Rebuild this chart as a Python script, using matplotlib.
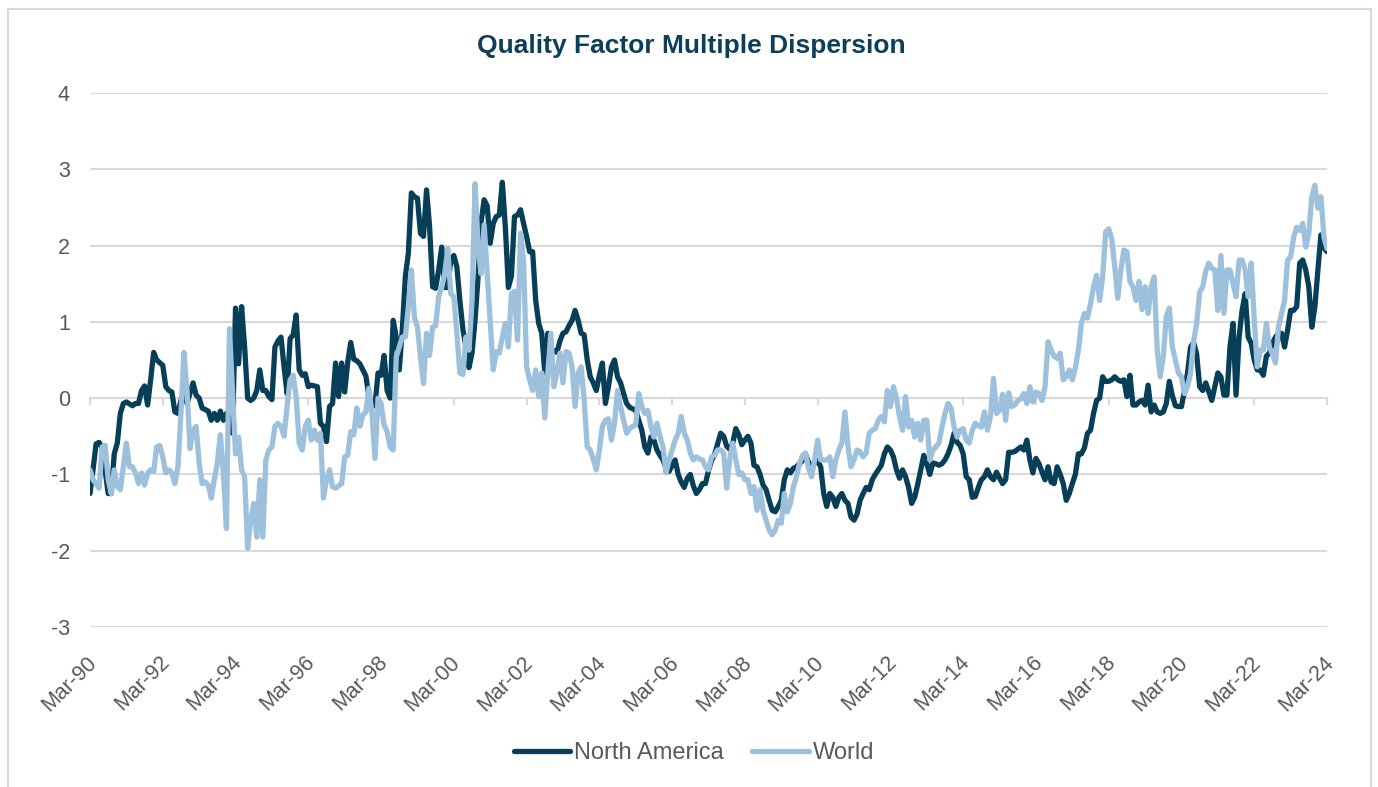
import matplotlib
matplotlib.use("Agg")
import matplotlib.pyplot as plt
from matplotlib.patches import Rectangle
from matplotlib.transforms import ScaledTranslation

plt.rcParams["font.family"] = ["Liberation Sans", "DejaVu Sans"]

# Months elapsed since March 1990, with the matching dispersion readings
na_months = [
    0, 1, 2, 3, 4, 6, 7, 8, 9, 10, 11, 12, 14, 15, 16, 17, 18, 19, 20, 21, 22, 24, 25, 26, 27,
    28, 29, 30, 31, 32, 34, 35, 36, 37, 39, 40, 41, 42, 43, 44, 45, 46, 47, 48, 49, 50, 51, 52,
    53, 54, 55, 56, 57, 58, 59, 60, 61, 62, 63, 64, 65, 66, 67, 68, 69, 70, 71, 72, 73, 75, 76,
    77, 78, 79, 80, 81, 82, 83, 84, 85, 86, 87, 88, 89, 90, 91, 92, 93, 94, 95, 96, 97, 98, 99,
    100, 101, 102, 103, 104, 105, 106, 107, 108, 109, 110, 111, 112, 113, 114, 115, 116, 117,
    118, 119, 120, 121, 122, 123, 124, 125, 126, 127, 128, 129, 130, 131, 132, 133, 134, 135,
    136, 137, 138, 139, 140, 141, 142, 143, 144, 145, 146, 147, 148, 149, 150, 151, 152, 153,
    154, 155, 156, 157, 158, 159, 160, 161, 162, 163, 164, 165, 166, 167, 168, 169, 170, 171,
    172, 173, 174, 175, 176, 177, 178, 179, 180, 181, 182, 183, 184, 185, 186, 187, 188, 189,
    190, 191, 192, 193, 194, 195, 196, 197, 198, 199, 200, 201, 202, 203, 204, 205, 206, 207,
    208, 209, 210, 211, 212, 213, 214, 215, 216, 217, 218, 219, 220, 221, 222, 223, 224, 225,
    226, 227, 228, 229, 230, 231, 232, 233, 234, 235, 236, 237, 238, 239, 240, 241, 242, 243,
    244, 245, 246, 247, 248, 249, 250, 251, 252, 253, 254, 255, 256, 257, 258, 259, 260, 261,
    262, 263, 264, 265, 266, 267, 268, 269, 270, 271, 272, 273, 274, 275, 276, 277, 278, 279,
    280, 281, 282, 283, 284, 285, 286, 287, 288, 289, 290, 291, 292, 293, 294, 295, 296, 297,
    298, 299, 300, 301, 302, 303, 304, 305, 306, 307, 308, 309, 310, 311, 312, 313, 314, 315,
    316, 317, 318, 319, 320, 321, 322, 323, 324, 325, 326, 327, 328, 329, 330, 331, 332, 333,
    334, 335, 336, 337, 338, 339, 340, 341, 342, 343, 344, 345, 346, 347, 348, 349, 350, 351,
    352, 353, 354, 355, 356, 357, 358, 359, 360, 361, 362, 363, 364, 365, 366, 367, 368, 370,
    371, 372, 373, 374, 375, 376, 377, 378, 379, 380, 381, 382, 383, 384, 385, 386, 387, 388,
    389, 390, 391, 392, 393, 394, 395, 396, 397, 398, 399, 400, 401, 402, 403, 404, 405, 406,
    407, 408,
]
na_values = [
    -1.25, -0.94, -0.6, -0.58, -0.65, -1.25, -1.25, -0.73, -0.59, -0.2, -0.07, -0.05, -0.1,
    -0.07, -0.07, 0.1, 0.16, -0.09, 0.24, 0.6, 0.5, 0.43, 0.15, 0.1, 0.08, -0.18, -0.2, -0.03,
    0.1, -0.07, 0.2, 0.04, 0.0, -0.13, -0.17, -0.29, -0.2, -0.29, -0.17, -0.29, -0.2, -0.29,
    -0.46, 1.18, 0.45, 1.2, 0.67, 0.0, -0.03, 0.0, 0.1, 0.37, 0.1, 0.1, 0.02, -0.02, 0.67, 0.75,
    0.8, 0.41, 0.06, 0.78, 0.83, 1.09, 0.37, 0.3, 0.32, 0.15, 0.17, 0.15, -0.33, -0.37, -0.57,
    -0.11, -0.07, 0.46, 0.02, 0.46, 0.08, 0.47, 0.73, 0.51, 0.49, 0.45, 0.37, 0.29, 0.02, -0.1,
    -0.1, 0.33, 0.3, 0.56, 0.1, 0.0, 1.02, 0.8, 0.37, 0.89, 1.59, 1.9, 2.69, 2.64, 2.62, 2.16,
    2.12, 2.73, 2.25, 1.46, 1.44, 1.68, 1.98, 1.45, 1.45, 1.81, 1.87, 1.72, 1.28, 0.9, 0.67,
    0.4, 0.59, 1.02, 1.59, 2.31, 2.6, 2.52, 2.03, 2.29, 2.38, 2.4, 2.83, 2.24, 1.45, 1.6, 2.38,
    2.4, 2.47, 2.29, 2.12, 1.92, 1.92, 1.28, 0.98, 0.85, 0.33, 0.85, 0.63, 0.62, 0.6, 0.75,
    0.85, 0.87, 0.95, 1.02, 1.15, 1.02, 0.85, 0.83, 0.5, 0.28, 0.2, 0.1, 0.3, 0.46, -0.07, 0.15,
    0.41, 0.5, 0.28, 0.2, 0.06, -0.07, -0.12, -0.14, -0.16, -0.29, -0.42, -0.64, -0.72, -0.51,
    -0.55, -0.68, -0.75, -0.81, -0.92, -0.96, -0.88, -0.81, -1.0, -1.1, -1.17, -1.05, -1.0,
    -1.15, -1.25, -1.2, -1.12, -1.12, -0.95, -0.82, -0.74, -0.6, -0.46, -0.5, -0.63, -0.67,
    -0.59, -0.4, -0.48, -0.61, -0.55, -0.5, -0.59, -0.88, -0.9, -1.0, -1.14, -1.2, -1.34,
    -1.47, -1.49, -1.42, -1.34, -1.07, -0.94, -0.98, -0.92, -0.9, -0.86, -0.82, -0.74, -0.84,
    -0.9, -0.85, -0.82, -0.9, -1.25, -1.42, -1.25, -1.3, -1.42, -1.3, -1.25, -1.34, -1.38,
    -1.56, -1.6, -1.52, -1.34, -1.25, -1.17, -1.2, -1.07, -1.0, -0.94, -0.88, -0.73, -0.64,
    -0.68, -0.77, -0.94, -1.05, -0.94, -1.03, -1.17, -1.38, -1.3, -1.13, -0.94, -0.75, -0.86,
    -1.0, -0.85, -0.86, -0.88, -0.86, -0.81, -0.73, -0.62, -0.46, -0.58, -0.62, -0.73, -1.03,
    -1.07, -1.3, -1.29, -1.17, -1.07, -1.03, -0.94, -1.03, -1.07, -0.97, -1.05, -1.12, -1.07,
    -0.71, -0.71, -0.7, -0.67, -0.64, -0.68, -0.55, -0.81, -0.98, -0.79, -0.86, -0.97, -1.07,
    -0.9, -1.1, -1.12, -0.9, -1.0, -1.12, -1.34, -1.25, -1.12, -1.0, -0.73, -0.73, -0.65,
    -0.46, -0.42, -0.2, -0.03, 0.0, 0.28, 0.22, 0.22, 0.24, 0.28, 0.24, 0.22, 0.24, 0.02, 0.3,
    -0.09, -0.09, -0.05, -0.03, -0.09, 0.17, -0.18, -0.09, -0.18, -0.2, -0.18, -0.07, 0.22,
    0.03, -0.1, -0.11, -0.11, 0.1, 0.33, 0.67, 0.73, 0.58, 0.15, 0.1, 0.2, -0.03, 0.15, 0.33,
    0.28, 0.04, 0.04, 0.67, 0.98, 0.04, 0.8, 1.15, 1.37, 0.8, 0.72, 0.5, 0.37, 0.37, 0.3, 0.55,
    0.59, 0.72, 0.8, 0.85, 0.85, 0.67, 0.89, 1.15, 1.15, 1.2, 1.77, 1.81, 1.68, 1.46, 0.93,
    1.2, 1.68, 2.14, 1.97, 1.92,
]

world_months = list(range(0, 409))
world_values = [
    -0.94, -1.07, -1.12, -1.18, -0.64, -0.62, -1.07, -1.25, -0.94, -1.16, -1.2, -0.9, -0.59,
    -0.9, -0.9, -0.98, -1.12, -0.98, -1.14, -0.98, -0.94, -0.96, -0.64, -0.62, -0.77, -0.98,
    -0.94, -0.98, -1.12, -0.9, -0.2, 0.6, 0.1, -0.66, -0.42, -0.37, -0.85, -1.12, -1.1, -1.14,
    -1.31, -1.07, -0.85, -0.48, -0.98, -1.71, 0.91, 0.1, -0.73, -0.51, -0.94, -1.03, -1.97,
    -1.6, -1.38, -1.82, -1.07, -1.82, -0.81, -0.68, -0.64, -0.37, -0.33, -0.37, -0.5, -0.11,
    0.24, 0.3, 0.02, -0.59, -0.68, -0.37, -0.29, -0.55, -0.42, -0.55, -0.46, -1.31, -1.07,
    -0.94, -1.16, -1.18, -1.15, -1.12, -0.77, -0.75, -0.44, -0.48, -0.13, -0.37, -0.22, -0.18,
    0.13, -0.2, -0.79, 0.0, -0.07, -0.35, -0.44, -0.64, -0.68, 0.54, 0.67, 0.8, 0.8, 1.2, 1.68,
    1.06, 0.93, 0.54, 0.19, 0.85, 0.56, 0.93, 0.95, 1.33, 1.45, 1.63, 1.96, 1.37, 1.33, 0.85,
    0.33, 0.31, 0.8, 0.63, 1.28, 2.81, 2.0, 1.63, 2.27, 1.63, 0.98, 0.37, 0.61, 0.59, 0.8, 0.98,
    0.67, 1.37, 1.4, 0.76, 2.16, 1.81, 0.41, 0.24, 0.1, 0.37, 0.02, 0.33, -0.26, 0.33, 0.85,
    0.15, 0.33, 0.59, 0.2, 0.61, 0.59, 0.41, -0.11, 0.33, 0.41, -0.03, -0.64, -0.68, -0.8,
    -0.94, -0.68, -0.37, -0.29, -0.27, -0.55, -0.33, 0.1, -0.11, -0.29, -0.46, -0.4, -0.37,
    -0.35, 0.06, -0.11, -0.2, -0.16, -0.37, -0.51, -0.33, -0.5, -0.64, -0.98, -0.81, -0.68,
    -0.55, -0.46, -0.24, -0.46, -0.55, -0.72, -0.81, -0.77, -0.8, -0.81, -0.9, -0.94, -0.77,
    -0.75, -0.68, -0.68, -0.72, -1.18, -0.8, -0.59, -0.81, -1.0, -0.98, -1.07, -1.07, -1.25,
    -1.16, -1.47, -1.2, -1.47, -1.6, -1.73, -1.79, -1.73, -1.6, -1.64, -1.25, -1.49, -1.38,
    -1.16, -1.03, -0.86, -0.75, -0.72, -0.92, -1.03, -0.81, -0.55, -0.81, -0.81, -0.81, -0.77,
    -1.03, -0.81, -0.68, -0.59, -0.18, -0.63, -0.9, -0.81, -0.68, -0.7, -0.77, -0.72, -0.46,
    -0.42, -0.4, -0.29, -0.24, -0.31, 0.1, -0.11, 0.15, 0.0, -0.24, -0.42, 0.02, -0.38, -0.29,
    -0.51, -0.33, -0.55, -0.29, -0.29, -0.81, -0.68, -0.64, -0.59, -0.38, -0.2, -0.07, -0.13,
    -0.38, -0.51, -0.42, -0.4, -0.55, -0.59, -0.42, -0.33, -0.36, -0.38, -0.18, -0.42, -0.24,
    0.26, -0.2, -0.16, 0.05, -0.29, 0.07, -0.11, -0.09, -0.03, -0.01, 0.06, -0.07, 0.15, -0.05,
    0.08, 0.06, -0.03, 0.15, 0.74, 0.63, 0.55, 0.52, 0.59, 0.24, 0.28, 0.37, 0.24, 0.4, 0.63,
    0.98, 1.11, 1.05, 1.24, 1.46, 1.61, 1.28, 1.59, 2.18, 2.22, 2.09, 1.72, 1.31, 1.68, 1.94,
    1.92, 1.53, 1.46, 1.28, 1.53, 1.16, 1.46, 1.11, 1.46, 1.59, 0.63, 0.28, 0.55, 1.07, 1.18,
    0.67, 0.5, 0.33, 0.28, 0.06, 0.15, 0.33, 0.74, 0.98, 1.39, 1.46, 1.66, 1.77, 1.7, 1.68,
    1.15, 1.87, 1.11, 1.68, 1.68, 1.5, 1.33, 1.81, 1.81, 1.68, 1.33, 1.77, 1.03, 0.41, 0.63,
    0.63, 0.98, 0.67, 0.58, 0.46, 0.93, 1.11, 1.28, 1.81, 1.85, 2.11, 2.24, 2.2, 2.29, 1.98,
    2.16, 2.64, 2.79, 2.49, 2.64, 2.11, 1.96,
]

series_names = ["North America", "World"]
y_ticks = [-3, -2, -1, 0, 1, 2, 3, 4]
x_tick_months = list(range(0, 409, 24))
x_tick_labels = [f"Mar-{(90 + m // 12) % 100:02d}" for m in x_tick_months]

NAVY = "#073E58"
SKY = "#9DC0DC"
GRID = "#D9D9D9"
TEXT = "#595959"

fig = plt.figure(figsize=(13.78, 7.87), dpi=100)
fig.patch.set_facecolor("white")

# light frame around the whole chart area
fig.patches.append(Rectangle((8 / 1378, -0.01), 1363 / 1378, 1 - 9 / 787 + 0.01,
                             transform=fig.transFigure, fill=False,
                             edgecolor=GRID, linewidth=1.5, zorder=0))

ax = fig.add_axes([90 / 1378, 1 - 627 / 787, (1327 - 90) / 1378, (627 - 93) / 787])

ax.plot(na_months, na_values, color=NAVY, lw=3.8, solid_joinstyle="round",
        solid_capstyle="round", label=series_names[0], zorder=3)
ax.plot(world_months, world_values, color=SKY, lw=3.8, solid_joinstyle="round",
        solid_capstyle="round", label=series_names[1], zorder=4)

ax.set_xlim(0, 408)
ax.set_ylim(-3, 4)
ax.set_yticks(y_ticks)
ax.set_yticklabels([str(v) for v in y_ticks])
ax.set_xticks(x_tick_months)
ax.set_xticklabels(x_tick_labels, rotation=45, ha="right", va="top",
                   rotation_mode="anchor")
ax.tick_params(axis="both", length=0, colors=TEXT, labelsize=15.5)
ax.tick_params(axis="y", pad=14.5)
ax.tick_params(axis="x", pad=18)
shift = ScaledTranslation(-4 / 100, 0, fig.dpi_scale_trans)
for lbl in ax.get_xticklabels():
    lbl.set_transform(lbl.get_transform() + shift)
ax.grid(axis="y", color=GRID, lw=1.5)
ax.set_axisbelow(True)
for s in ax.spines.values():
    s.set_visible(False)

# small tick marks hanging from the zero line
zero_axis = ax.secondary_xaxis(3 / 7)
zero_axis.set_xticks(x_tick_months)
zero_axis.set_xticklabels([])
zero_axis.tick_params(axis="x", direction="out", length=5, width=1.5, color=GRID)
zero_axis.spines["bottom"].set_color(GRID)
zero_axis.spines["bottom"].set_linewidth(1.5)

fig.text(691 / 1378, 1 - 46 / 787, "Quality Factor Multiple Dispersion",
         ha="center", va="center", fontsize=19, fontweight="bold", color="#0D3F5A")

leg = fig.legend(loc="center", bbox_to_anchor=(694 / 1378, 1 - 753 / 787), ncol=2,
                 frameon=False, fontsize=17, handlelength=2.4, handletextpad=0.17,
                 columnspacing=1.2, labelcolor=TEXT)

fig.savefig("out.png", dpi=100, facecolor="white")
